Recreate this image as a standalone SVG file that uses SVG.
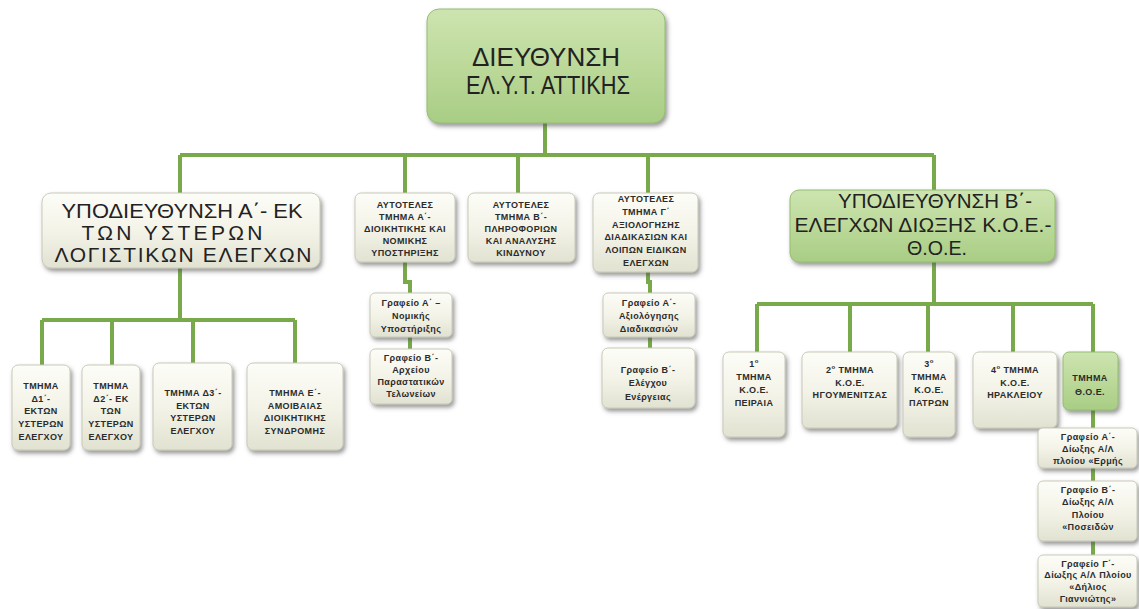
<svg xmlns="http://www.w3.org/2000/svg" width="1139" height="609" viewBox="0 0 1139 609">
<defs>
<linearGradient id="cream" x1="0" y1="0" x2="0" y2="1">
<stop offset="0" stop-color="#fdfdf8"/><stop offset="0.5" stop-color="#f3f3e8"/><stop offset="1" stop-color="#e2e2d2"/>
</linearGradient>
<linearGradient id="green" x1="0" y1="0" x2="0" y2="1">
<stop offset="0" stop-color="#cde4b0"/><stop offset="0.5" stop-color="#bcd99a"/><stop offset="1" stop-color="#a8cd84"/>
</linearGradient>
<filter id="sh" x="-20%" y="-20%" width="140%" height="150%">
<feDropShadow dx="2" dy="3" stdDeviation="2" flood-color="#555" flood-opacity="0.6"/>
</filter>
</defs>
<style>
.c{fill:url(#cream);stroke:#c9c9b8;stroke-width:1;filter:url(#sh)}
.g{fill:url(#green);stroke:#94bd70;stroke-width:1;filter:url(#sh)}
.big{font-family:"Liberation Sans",Arial,sans-serif;fill:#222;text-anchor:middle}
.s{font-family:"Liberation Sans",Arial,sans-serif;font-size:9px;font-weight:bold;letter-spacing:0.4px;fill:#2b2b2b;text-anchor:middle}
.sup{font-size:6px}
#connectors path{fill:none;stroke:#78a94a;stroke-width:4;stroke-linejoin:miter}
</style>
<rect width="1139" height="609" fill="#ffffff"/>

<g id="connectors">
<path d="M545 123V155M180 155H934M180 155V193M405 155V193M518 155V193M648 155V193M934 155V190"/>
<path d="M180 268V320M42 320H295M42 320V365M112 320V365M193 320V363M295 320V363"/>
<path d="M405 262V282H410V293M410 337V349"/>
<path d="M648 272V282H650V293M650 337V348"/>
<path d="M934 262V304M757 304H1093M757 304V352M850 304V352M928 304V352M1013 304V352M1093 304V352"/>
<path d="M1093 410V428M1093 468V481M1093 541V555"/>
</g>

<g id="n-top">
<rect class="g" x="427" y="9" width="238" height="114" rx="12"/>
<text class="big" font-size="25" x="546" y="66" textLength="148" lengthAdjust="spacingAndGlyphs">ΔΙΕΥΘΥΝΣΗ</text>
<text class="big" font-size="25" x="548" y="94" textLength="164" lengthAdjust="spacingAndGlyphs">ΕΛ.Υ.Τ. ΑΤΤΙΚΗΣ</text>
</g>

<g id="n-subA">
<rect class="c" x="42" y="193" width="278" height="75" rx="9"/>
<text class="big" font-size="21" x="182" y="218" textLength="241" lengthAdjust="spacingAndGlyphs">ΥΠΟΔΙΕΥΘΥΝΣΗ Α΄- ΕΚ</text>
<text class="big" font-size="21" x="172" y="240" textLength="181" lengthAdjust="spacing">ΤΩΝ ΥΣΤΕΡΩΝ</text>
<text class="big" font-size="21" x="183" y="262" textLength="257" lengthAdjust="spacing">ΛΟΓΙΣΤΙΚΩΝ ΕΛΕΓΧΩΝ</text>
</g>

<g id="n-subB">
<rect class="g" x="790" y="190" width="265" height="72" rx="9"/>
<text class="big" font-size="21" x="935" y="208" textLength="194" lengthAdjust="spacingAndGlyphs">ΥΠΟΔΙΕΥΘΥΝΣΗ Β΄-</text>
<text class="big" font-size="21" x="923" y="232" textLength="257" lengthAdjust="spacing">ΕΛΕΓΧΩΝ ΔΙΩΞΗΣ Κ.Ο.Ε.-</text>
<text class="big" font-size="21" x="937" y="255" textLength="60" lengthAdjust="spacingAndGlyphs">Θ.Ο.Ε.</text>
</g>

<g id="n-autA">
<rect class="c" x="355" y="193" width="100" height="69" rx="6"/>
<text class="s" x="405" y="208">ΑΥΤΟΤΕΛΕΣ</text>
<text class="s" x="405" y="220">ΤΜΗΜΑ Α΄-</text>
<text class="s" x="405" y="232">ΔΙΟΙΚΗΤΙΚΗΣ ΚΑΙ</text>
<text class="s" x="405" y="244">ΝΟΜΙΚΗΣ</text>
<text class="s" x="405" y="256">ΥΠΟΣΤΗΡΙΞΗΣ</text>
</g>

<g id="n-autB">
<rect class="c" x="468" y="193" width="107" height="69" rx="6"/>
<text class="s" x="521" y="208">ΑΥΤΟΤΕΛΕΣ</text>
<text class="s" x="521" y="220">ΤΜΗΜΑ Β΄-</text>
<text class="s" x="521" y="232">ΠΛΗΡΟΦΟΡΙΩΝ</text>
<text class="s" x="521" y="244">ΚΑΙ ΑΝΑΛΥΣΗΣ</text>
<text class="s" x="521" y="256">ΚΙΝΔΥΝΟΥ</text>
</g>

<g id="n-autC">
<rect class="c" x="593" y="193" width="105" height="79" rx="6"/>
<text class="s" x="646" y="202">ΑΥΤΟΤΕΛΕΣ</text>
<text class="s" x="646" y="215">ΤΜΗΜΑ Γ΄</text>
<text class="s" x="646" y="228">ΑΞΙΟΛΟΓΗΣΗΣ</text>
<text class="s" x="646" y="240">ΔΙΑΔΙΚΑΣΙΩΝ ΚΑΙ</text>
<text class="s" x="646" y="253">ΛΟΙΠΩΝ ΕΙΔΙΚΩΝ</text>
<text class="s" x="646" y="266">ΕΛΕΓΧΩΝ</text>
</g>

<g id="n-grA1">
<rect class="c" x="370" y="293" width="82" height="44" rx="5"/>
<text class="s" x="411" y="306">Γραφείο Α΄ –</text>
<text class="s" x="411" y="319">Νομικής</text>
<text class="s" x="411" y="332">Υποστήριξης</text>
</g>

<g id="n-grB1">
<rect class="c" x="370" y="349" width="82" height="55" rx="5"/>
<text class="s" x="411" y="361">Γραφείο Β΄-</text>
<text class="s" x="411" y="373">Αρχείου</text>
<text class="s" x="411" y="385">Παραστατικών</text>
<text class="s" x="411" y="397">Τελωνείων</text>
</g>

<g id="n-grA2">
<rect class="c" x="603" y="293" width="92" height="44" rx="5"/>
<text class="s" x="649" y="306">Γραφείο Α΄-</text>
<text class="s" x="649" y="319">Αξιολόγησης</text>
<text class="s" x="649" y="332">Διαδικασιών</text>
</g>

<g id="n-grB2">
<rect class="c" x="602" y="348" width="93" height="60" rx="6"/>
<text class="s" x="648" y="373">Γραφείο  Β΄-</text>
<text class="s" x="648" y="386">Ελέγχου</text>
<text class="s" x="648" y="400">Ενέργειας</text>
</g>

<g id="n-d1">
<rect class="c" x="12" y="365" width="58" height="85" rx="6"/>
<text class="s" x="41" y="389">ΤΜΗΜΑ</text>
<text class="s" x="41" y="402">Δ1΄-</text>
<text class="s" x="41" y="414">ΕΚΤΩΝ</text>
<text class="s" x="41" y="427">ΥΣΤΕΡΩΝ</text>
<text class="s" x="41" y="440">ΕΛΕΓΧΟΥ</text>
</g>

<g id="n-d2">
<rect class="c" x="82" y="365" width="58" height="85" rx="6"/>
<text class="s" x="111" y="389">ΤΜΗΜΑ</text>
<text class="s" x="111" y="402">Δ2΄- ΕΚ</text>
<text class="s" x="111" y="414">ΤΩΝ</text>
<text class="s" x="111" y="427">ΥΣΤΕΡΩΝ</text>
<text class="s" x="111" y="440">ΕΛΕΓΧΟΥ</text>
</g>

<g id="n-d3">
<rect class="c" x="153" y="363" width="79" height="87" rx="6"/>
<text class="s" x="193" y="396">ΤΜΗΜΑ Δ3΄-</text>
<text class="s" x="193" y="409">ΕΚΤΩΝ</text>
<text class="s" x="193" y="421">ΥΣΤΕΡΩΝ</text>
<text class="s" x="193" y="434">ΕΛΕΓΧΟΥ</text>
</g>

<g id="n-e">
<rect class="c" x="247" y="363" width="96" height="87" rx="6"/>
<text class="s" x="295" y="396">ΤΜΗΜΑ Ε΄-</text>
<text class="s" x="295" y="409">ΑΜΟΙΒΑΙΑΣ</text>
<text class="s" x="295" y="421">ΔΙΟΙΚΗΤΙΚΗΣ</text>
<text class="s" x="295" y="434">ΣΥΝΔΡΟΜΗΣ</text>
</g>

<g id="n-koe1">
<rect class="c" x="723" y="352" width="62" height="85" rx="6"/>
<text class="s" x="754" y="367">1<tspan class="sup" dy="-4">ο</tspan></text>
<text class="s" x="754" y="380">ΤΜΗΜΑ</text>
<text class="s" x="754" y="393">Κ.Ο.Ε.</text>
<text class="s" x="754" y="406">ΠΕΙΡΑΙΑ</text>
</g>

<g id="n-koe2">
<rect class="c" x="802" y="352" width="95" height="76" rx="6"/>
<text class="s" x="850" y="373">2<tspan class="sup" dy="-4">ο</tspan><tspan dy="4"> ΤΜΗΜΑ</tspan></text>
<text class="s" x="850" y="386">Κ.Ο.Ε.</text>
<text class="s" x="850" y="398">ΗΓΟΥΜΕΝΙΤΣΑΣ</text>
</g>

<g id="n-koe3">
<rect class="c" x="903" y="352" width="52" height="85" rx="6"/>
<text class="s" x="929" y="367">3<tspan class="sup" dy="-4">ο</tspan></text>
<text class="s" x="929" y="380">ΤΜΗΜΑ</text>
<text class="s" x="929" y="393">Κ.Ο.Ε.</text>
<text class="s" x="929" y="406">ΠΑΤΡΩΝ</text>
</g>

<g id="n-koe4">
<rect class="c" x="973" y="352" width="84" height="76" rx="6"/>
<text class="s" x="1015" y="373">4<tspan class="sup" dy="-4">ο</tspan><tspan dy="4"> ΤΜΗΜΑ</tspan></text>
<text class="s" x="1015" y="386">Κ.Ο.Ε.</text>
<text class="s" x="1015" y="398">ΗΡΑΚΛΕΙΟΥ</text>
</g>

<g id="n-thoe">
<rect class="g" x="1063" y="352" width="55" height="58" rx="6"/>
<text class="s" x="1090" y="381">ΤΜΗΜΑ</text>
<text class="s" x="1090" y="395">Θ.Ο.Ε.</text>
</g>

<g id="n-grA3">
<rect class="c" x="1038" y="428" width="99" height="40" rx="5"/>
<text class="s" x="1088" y="440">Γραφείο Α΄-</text>
<text class="s" x="1088" y="452">Δίωξης  Α/Λ</text>
<text class="s" x="1088" y="464">πλοίου  «Ερμής</text>
</g>

<g id="n-grB3">
<rect class="c" x="1038" y="481" width="99" height="60" rx="5"/>
<text class="s" x="1088" y="493">Γραφείο  Β΄-</text>
<text class="s" x="1088" y="505">Δίωξης Α/Λ</text>
<text class="s" x="1088" y="518">Πλοίου</text>
<text class="s" x="1088" y="530">«Ποσειδών</text>
</g>

<g id="n-grC3">
<rect class="c" x="1038" y="555" width="99" height="52" rx="5"/>
<text class="s" x="1088" y="567">Γραφείο  Γ΄-</text>
<text class="s" x="1088" y="578" letter-spacing="0">Δίωξης Α/Λ Πλοίου</text>
<text class="s" x="1088" y="590">«Δήλιος</text>
<text class="s" x="1088" y="602">Γιαννιώτης»</text>
</g>
</svg>
